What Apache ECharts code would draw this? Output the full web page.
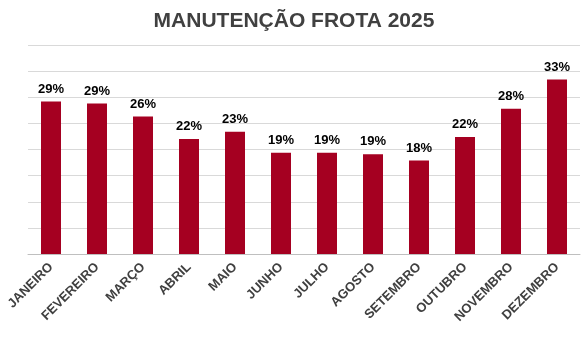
<!DOCTYPE html>
<html><head><meta charset="utf-8">
<script src="https://cdn.jsdelivr.net/npm/echarts@6/dist/echarts.min.js"></script>
<style>html,body{margin:0;padding:0;background:#fff}#c{width:588px;height:358px}</style>
</head><body><div id="c"></div>
<script>
const titleText = 'MANUTENÇÃO FROTA 2025';
const categories = ['JANEIRO','FEVEREIRO','MARÇO','ABRIL','MAIO','JUNHO','JULHO','AGOSTO','SETEMBRO','OUTUBRO','NOVEMBRO','DEZEMBRO'];
const values = [29.2, 28.8, 26.3, 22.0, 23.4, 19.4, 19.4, 19.1, 17.9, 22.4, 27.8, 33.4];

const chart = echarts.init(document.getElementById('c'), null, {renderer:'canvas'});
chart.setOption({
  animation: false,
  title: {
    text: titleText, left: 'center', top: 6,
    textStyle: {fontFamily: 'Liberation Sans, Arial', fontSize: 21, fontWeight: 'bold', color: '#404040'}
  },
  grid: {left: 28, right: 8, top: 45, bottom: 104, containLabel: false},
  xAxis: {
    type: 'category', data: categories,
    axisLine: {show: true, lineStyle: {color: '#bfbfbf', width: 1}},
    axisTick: {show: false},
    axisLabel: {
      rotate: 45, interval: 0, margin: 11,
      fontFamily: 'Liberation Sans, Arial', fontSize: 13, fontWeight: 'bold', color: '#404040'
    }
  },
  yAxis: {
    type: 'value', min: 0, max: 40, interval: 5,
    axisLabel: {show: false}, axisLine: {show: false}, axisTick: {show: false},
    splitLine: {show: true, lineStyle: {color: '#d9d9d9', width: 1}}
  },
  series: [{
    type: 'bar', data: values, barWidth: 20,
    itemStyle: {color: '#A50021'},
    label: {
      show: true, position: 'top', distance: 6,
      formatter: p => Math.round(p.value) + '%',
      fontFamily: 'Liberation Sans, Arial', fontSize: 13, fontWeight: 'bold', color: '#000'
    }
  }]
});
</script></body></html>
